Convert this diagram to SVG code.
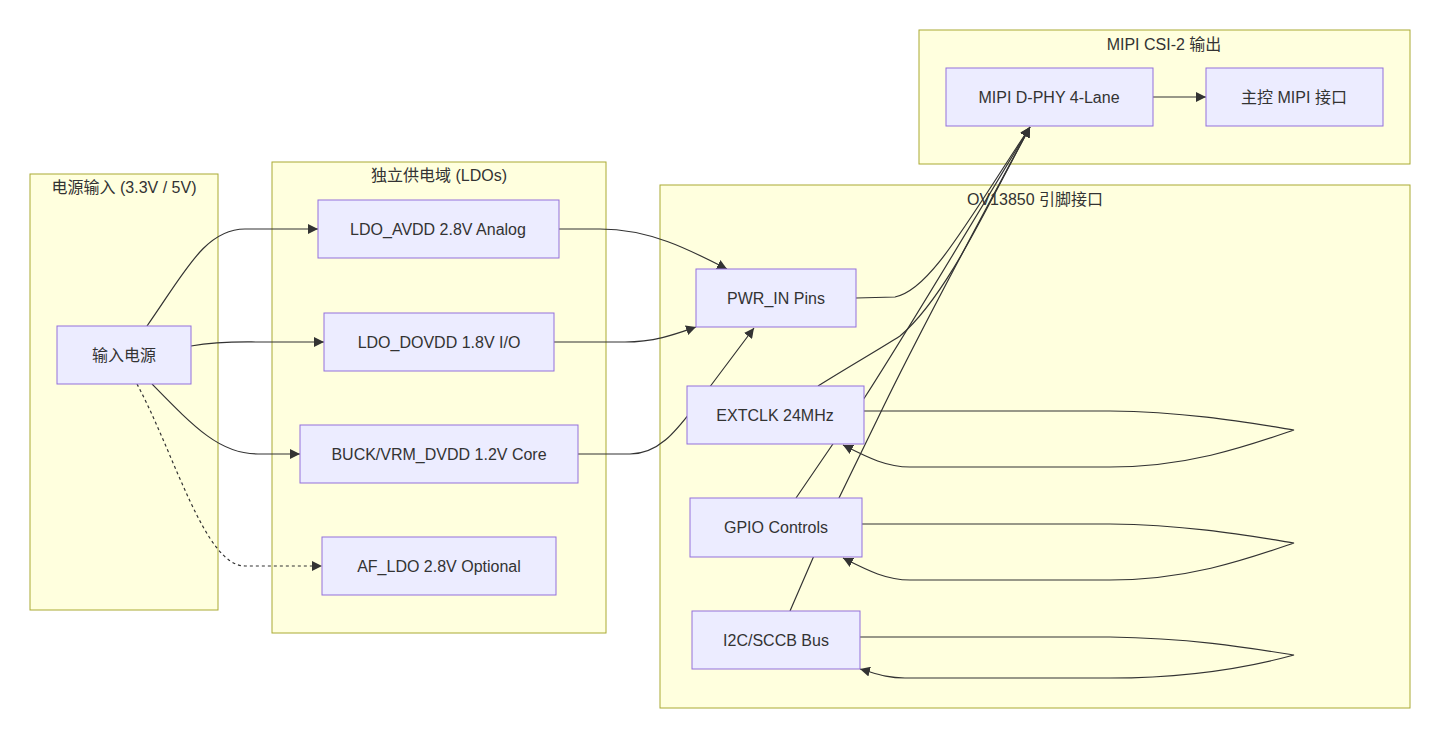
<svg xmlns="http://www.w3.org/2000/svg" width="1440" height="738" viewBox="0 0 1440 738">
<style>
.cluster rect{fill:#ffffde;stroke:#aaaa33;stroke-width:1}
.node rect{fill:#ECECFF;stroke:#9370DB;stroke-width:1}
text{font-family:"Liberation Sans","Noto Sans CJK SC",sans-serif;font-size:16px;fill:#333;text-anchor:middle;dominant-baseline:central}
.edge{fill:none;stroke:#333;stroke-width:1.2}
.dot{stroke-dasharray:3,3}
</style>
<defs>
<marker id="arr" viewBox="0 0 10 10" refX="10" refY="5" markerWidth="10" markerHeight="10" markerUnits="userSpaceOnUse" orient="auto">
<path d="M0,0 L10,5 L0,10 z" fill="#333"/>
</marker>
</defs>
<rect width="1440" height="738" fill="#ffffff"/>
<g id="clusters">
<g id="cluster-power" class="cluster"><rect x="30" y="174" width="188" height="436"/><text x="124" y="187">电源输入 (3.3V / 5V)</text></g>
<g id="cluster-ldo" class="cluster"><rect x="272" y="162" width="334" height="471"/><text x="439" y="175">独立供电域 (LDOs)</text></g>
<g id="cluster-mipi" class="cluster"><rect x="919" y="30" width="491" height="134"/><text x="1164" y="44">MIPI CSI-2 输出</text></g>
<g id="cluster-ov" class="cluster"><rect x="660" y="185" width="750" height="523"/><text x="1035" y="199">OV13850 引脚接口</text></g>
</g>
<g id="edges">
<path class="edge" marker-end="url(#arr)" d="M147,326 C185,272 205,229 245,229 L318,229"/>
<path class="edge" marker-end="url(#arr)" d="M191,346 C220,341 240,342 260,342 L324,342"/>
<path class="edge" marker-end="url(#arr)" d="M152,384 C195,428 220,454 258,454 L300,454"/>
<path class="edge dot" marker-end="url(#arr)" d="M137,384 C175,455 205,566 245,566 L322,566"/>
<path class="edge" marker-end="url(#arr)" d="M559,229 L600,229 C650,229 690,250 727,269"/>
<path class="edge" marker-end="url(#arr)" d="M554,342 L625,342 C655,342 676,334 696,327"/>
<path class="edge" marker-end="url(#arr)" d="M578,454 L630,454 C662,454 680,425 700,400 L754,328"/>
<path class="edge" marker-end="url(#arr)" d="M856,298 L895,297 C930,290 965,225 1030,127"/>
<path class="edge" marker-end="url(#arr)" d="M818,386 C850,366 878,350 900,336 C948,295 990,200 1030,127"/>
<path class="edge" marker-end="url(#arr)" d="M796,498 L865,397 C905,335 965,235 1030,127"/>
<path class="edge" marker-end="url(#arr)" d="M790,611 L839,498 L877,420 C920,330 980,220 1030,127"/>
<path class="edge" marker-end="url(#arr)" d="M1153,97 L1206,97"/>
<path class="edge" marker-end="url(#arr)" d="M864,411 L1110,411 C1190,412 1250,423 1294,430 C1250,445 1190,467 1110,467 L910,467 C885,467 865,456 843,445"/>
<path class="edge" marker-end="url(#arr)" d="M862,524 L1110,524 C1190,525 1250,536 1294,543 C1250,558 1190,580 1110,580 L910,580 C885,580 865,569 843,558"/>
<path class="edge" marker-end="url(#arr)" d="M860,637 L1110,637 C1190,638 1250,648 1294,655 C1250,667 1190,678 1110,678 L905,678 C885,678 875,673 860,669"/>
</g>
<g id="n-input" class="node"><rect x="57" y="326" width="134" height="58"/><text x="124" y="355">输入电源</text></g>
<g id="n-avdd" class="node"><rect x="318" y="200" width="241" height="58"/><text x="438" y="229">LDO_AVDD 2.8V Analog</text></g>
<g id="n-dovdd" class="node"><rect x="324" y="313" width="230" height="58"/><text x="439" y="342">LDO_DOVDD 1.8V I/O</text></g>
<g id="n-dvdd" class="node"><rect x="300" y="425" width="278" height="58"/><text x="439" y="454">BUCK/VRM_DVDD 1.2V Core</text></g>
<g id="n-af" class="node"><rect x="322" y="537" width="234" height="58"/><text x="439" y="566">AF_LDO 2.8V Optional</text></g>
<g id="n-pwr" class="node"><rect x="696" y="269" width="160" height="58"/><text x="776" y="298">PWR_IN Pins</text></g>
<g id="n-clk" class="node"><rect x="687" y="386" width="177" height="58"/><text x="775" y="415">EXTCLK 24MHz</text></g>
<g id="n-gpio" class="node"><rect x="690" y="498" width="172" height="59"/><text x="776" y="527">GPIO Controls</text></g>
<g id="n-i2c" class="node"><rect x="692" y="611" width="168" height="58"/><text x="776" y="640">I2C/SCCB Bus</text></g>
<g id="n-dphy" class="node"><rect x="946" y="68" width="207" height="58"/><text x="1049" y="97">MIPI D-PHY 4-Lane</text></g>
<g id="n-host" class="node"><rect x="1206" y="68" width="177" height="58"/><text x="1294" y="97">主控 MIPI 接口</text></g>
</svg>
